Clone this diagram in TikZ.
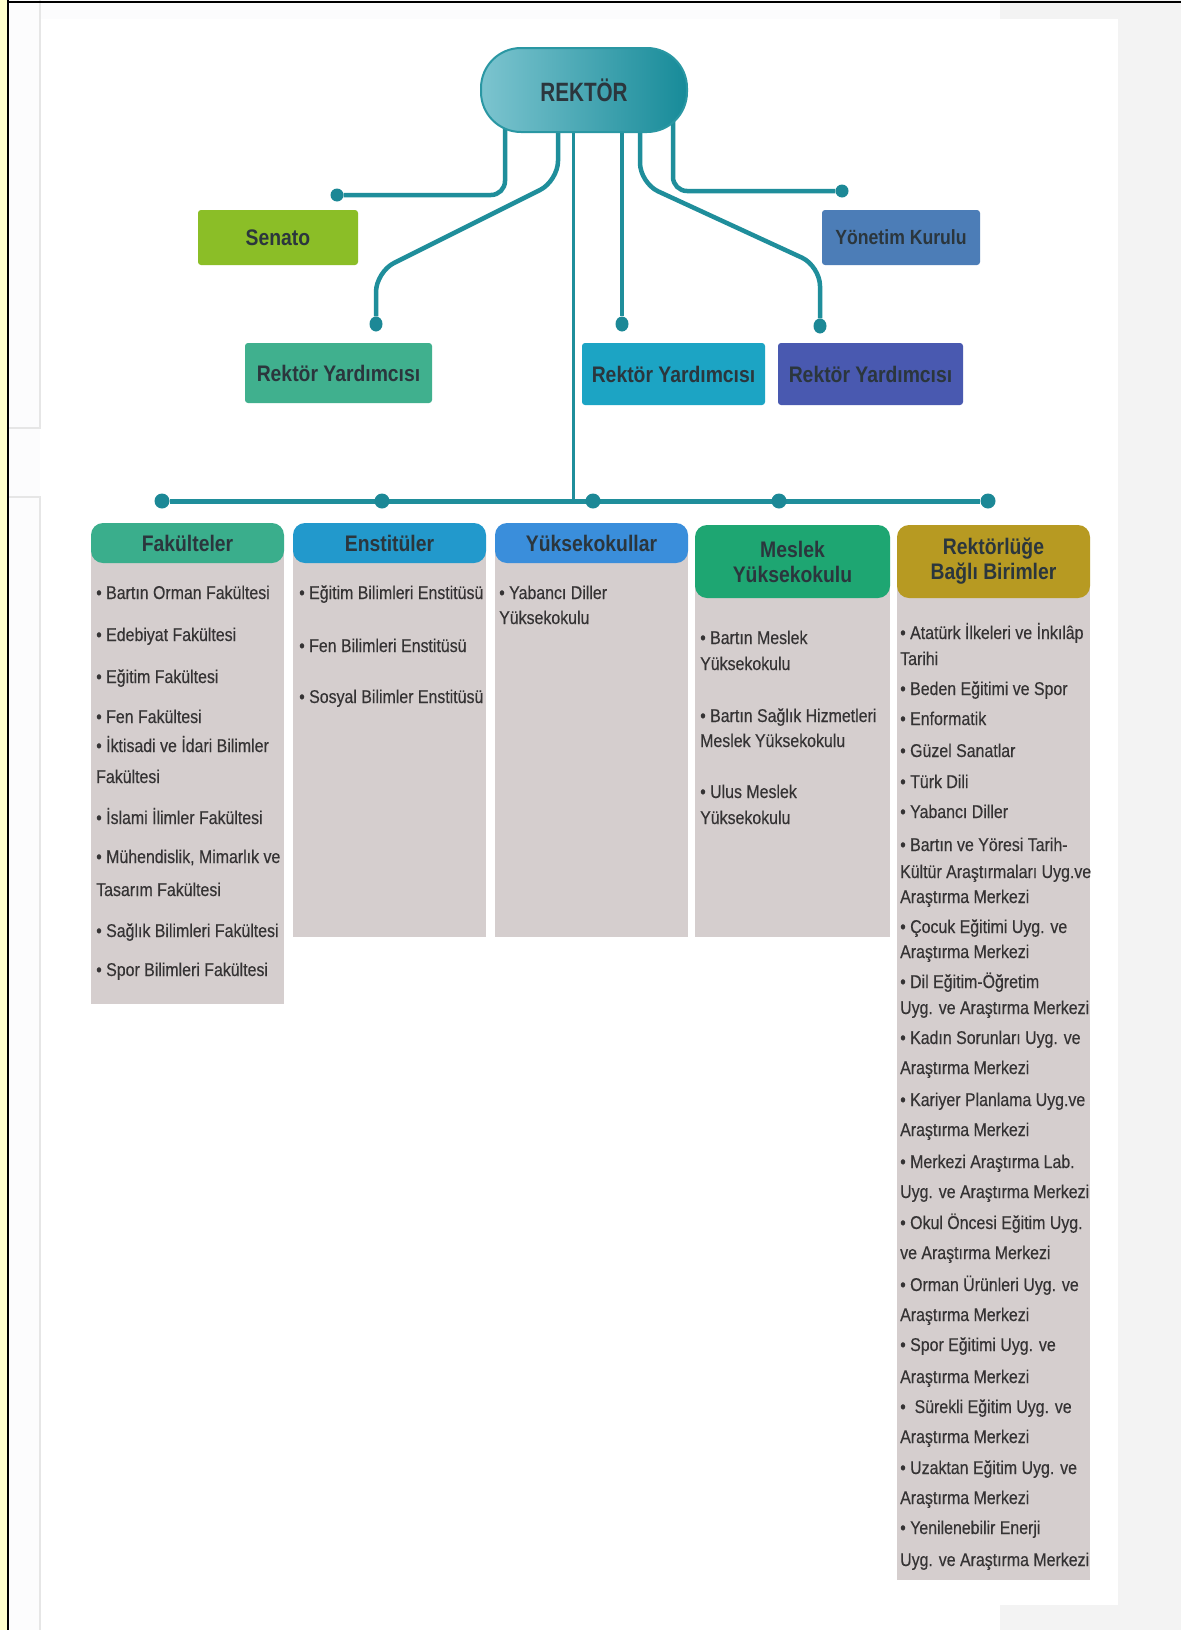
\documentclass[tikz,border=0pt]{standalone}
\usepackage{fontspec}
\setmainfont{Liberation Sans}[FakeStretch=0.86]
\newfontfamily\rkfont{Liberation Sans}[FakeStretch=0.78]
\newfontfamily\itemfont{Liberation Sans}[FakeStretch=0.86, FakeBold=0.35]
\usetikzlibrary{shapes.geometric}
\pgfdeclarelayer{back}
\pgfdeclarelayer{lines}
\pgfsetlayers{back,lines,main}
\definecolor{lineC}{HTML}{1F8E9B}
\definecolor{dotC}{HTML}{1C8896}
\definecolor{rkL}{HTML}{7CC4CF}
\definecolor{rkR}{HTML}{178B99}
\definecolor{rkB}{HTML}{2A97A3}
\definecolor{txtC}{HTML}{2B363D}
\definecolor{itemC}{HTML}{353334}
\definecolor{senC}{HTML}{8BBE27}
\definecolor{yonC}{HTML}{4C7DB7}
\definecolor{ryA}{HTML}{40B08E}
\definecolor{ryB}{HTML}{1CA4C4}
\definecolor{ryC}{HTML}{4959B0}
\definecolor{fakC}{HTML}{3AAE8C}
\definecolor{ensC}{HTML}{2299CC}
\definecolor{yukC}{HTML}{3A8EDB}
\definecolor{mesC}{HTML}{1EA672}
\definecolor{rekC}{HTML}{B79A22}
\definecolor{bodyC}{HTML}{D5CECE}
\definecolor{yelC}{HTML}{FFFFCC}
\definecolor{pageC}{HTML}{FCFCFD}
\definecolor{sideC}{HTML}{F3F3F3}
\definecolor{faintC}{HTML}{E6E6E6}
\begin{document}
\begin{tikzpicture}[x=1pt,y=-1pt,
  conn/.style={draw=lineC, line width=4.5pt, rounded corners=16pt},
  dotnode/.style={circle, fill=dotC, minimum size=13pt, inner sep=0pt},
  vdot/.style={ellipse, fill=dotC, minimum width=13pt, minimum height=15pt, inner sep=0pt},
  topbox/.style={rectangle, rounded corners=3pt, inner sep=0pt, text=txtC,
    font=\bfseries\fontsize{22.5}{24}\selectfont, minimum height=56pt},
  hdr/.style={rectangle, rounded corners=12pt, inner sep=0pt, text=txtC, align=center,
    font=\bfseries\fontsize{22.5}{25}\selectfont},
  bodybox/.style={rectangle, fill=bodyC, inner sep=0pt},
  item/.style={inner sep=0pt, anchor=base west, text=itemC,
    font=\itemfont\fontsize{18.5}{20}\selectfont}]
\useasboundingbox (0,0) rectangle (1181,1630);
\begin{pgfonlayer}{back}
  \fill[pageC] (0,0) rectangle (1181,1630);
  \fill[sideC] (1118,0) rectangle (1181,1630);
  \fill[sideC] (1000,0) rectangle (1181,19);
  \fill[sideC] (1000,1605) rectangle (1181,1630);
  \fill[white] (40,19) rectangle (1118,1605);
  \fill[white] (40,1605) rectangle (1000,1630);
  \draw[faintC, line width=1.5pt] (40,0) -- (40,428) -- (8,428);
  \draw[faintC, line width=1.5pt] (8,497) -- (40,497) -- (40,1630);
  \fill[yelC] (0,0) rectangle (7,1630);
  \draw[black, line width=2pt] (8,1.5) -- (1181,1.5);
  \draw[black, line width=2pt] (8,0) -- (8,1630);
\end{pgfonlayer}

% REKTOR
\node[rectangle, rounded corners=40pt, draw=rkB, line width=2pt, left color=rkL, right color=rkR,
  minimum width=206pt, minimum height=84pt, inner sep=0pt, text=txtC,
  font=\rkfont\bfseries\fontsize{26.5}{28}\selectfont] (rektor) at (584,90) {REKTÖR};

% top boxes
\node[topbox, fill=senC, minimum width=160pt, minimum height=55pt] (senato) at (278,237.5) {Senato};
\node[topbox, fill=yonC, minimum width=158pt, minimum height=55pt,
  font=\bfseries\fontsize{20.5}{22}\selectfont] (yonetim) at (901,237.5) {Yönetim Kurulu};
\node[topbox, fill=ryA, minimum width=187pt, minimum height=60pt] (ry1) at (338.5,373) {Rektör Yardımcısı};
\node[topbox, fill=ryB, minimum width=183pt, minimum height=62pt] (ry2) at (673.5,374) {Rektör Yardımcısı};
\node[topbox, fill=ryC, minimum width=185pt, minimum height=62pt] (ry3) at (870.5,374) {Rektör Yardımcısı};

% dots
\node[dotnode] (dsen) at (337,195) {};
\node[dotnode] (dyon) at (842,191) {};
\node[vdot] (dry1) at (376,324) {};
\node[vdot] (dry2) at (622,324) {};
\node[vdot] (dry3) at (820,326) {};
\node[dotnode, minimum size=15pt] (dfak) at (162,501) {};
\node[dotnode, minimum size=15pt] (dens) at (382,501) {};
\node[dotnode, minimum size=15pt] (dyuk) at (593,501) {};
\node[dotnode, minimum size=15pt] (dmes) at (779,501) {};
\node[dotnode, minimum size=15pt] (drek) at (988,501) {};
\coordinate (busj) at (573,501);

% connectors
\begin{pgfonlayer}{lines}
  \draw[conn, rounded corners=14pt] ([xshift=-79pt]rektor.center) |- (dsen);
  \draw[conn, rounded corners=20pt] ([xshift=-26pt]rektor.center) -- ++(0,91) -- (376,272) -- (dry1);
  \draw[draw=lineC, line width=3pt] ([xshift=-11pt]rektor.center) -- (busj);
  \draw[conn] ([xshift=38pt]rektor.center) -- (dry2);
  \draw[conn, rounded corners=20pt] ([xshift=56pt]rektor.center) -- ++(0,93) -- (820,266) -- (dry3);
  \draw[conn, rounded corners=14pt] ([xshift=89pt]rektor.center) |- (dyon);
  \draw[draw=lineC, line width=5pt] (dfak) -- (drek);
\end{pgfonlayer}

% columns: bodies
\node[bodybox, minimum width=193pt, minimum height=461pt, anchor=north] (bfak) at (187.5,543) {};
\node[bodybox, minimum width=193pt, minimum height=394pt, anchor=north] (bens) at (389.5,543) {};
\node[bodybox, minimum width=193pt, minimum height=394pt, anchor=north] (byuk) at (591.5,543) {};
\node[bodybox, minimum width=195pt, minimum height=375.5pt, anchor=north] (bmes) at (792.5,561.5) {};
\node[bodybox, minimum width=193pt, minimum height=1018.5pt, anchor=north] (brek) at (993.5,561.5) {};

% headers
\node[hdr, fill=fakC, minimum width=193pt, minimum height=40pt] (hfak) at (187.5,543) {Fakülteler};
\node[hdr, fill=ensC, minimum width=193pt, minimum height=40pt] (hens) at (389.5,543) {Enstitüler};
\node[hdr, fill=yukC, minimum width=193pt, minimum height=40pt] (hyuk) at (591.5,543) {Yüksekokullar};
\node[hdr, fill=mesC, minimum width=195pt, minimum height=73pt] (hmes) at (792.5,561.5) {Meslek\\Yüksekokulu};
\node[hdr, fill=rekC, minimum width=193pt, minimum height=73pt] (hrek) at (993.5,561.5) {Rektörlüğe\\Bağlı Birimler};

% lists
\foreach \yy/\txt [count=\i] in {
  593/{• Bartın Orman Fakültesi},
  635/{• Edebiyat Fakültesi},
  677/{• Eğitim Fakültesi},
  717/{• Fen Fakültesi},
  746/{• İktisadi ve İdari Bilimler},
  777/{Fakültesi},
  818/{• İslami İlimler Fakültesi},
  857/{• Mühendislik, Mimarlık ve},
  890/{Tasarım Fakültesi},
  931/{• Sağlık Bilimleri Fakültesi},
  970/{• Spor Bilimleri Fakültesi}}
  \node[item] (fak\i) at (96,\yy+6) {\txt};

\foreach \yy/\txt [count=\i] in {
  593/{• Eğitim Bilimleri Enstitüsü},
  646/{• Fen Bilimleri Enstitüsü},
  697/{• Sosyal Bilimler Enstitüsü}}
  \node[item] (ens\i) at (299,\yy+6) {\txt};

\foreach \yy/\txt [count=\i] in {
  593/{• Yabancı Diller},
  618/{Yüksekokulu}}
  \node[item] (yuk\i) at (499,\yy+6) {\txt};

\foreach \yy/\txt [count=\i] in {
  638/{• Bartın Meslek},
  664/{Yüksekokulu},
  716/{• Bartın Sağlık Hizmetleri},
  741/{Meslek Yüksekokulu},
  792/{• Ulus Meslek},
  818/{Yüksekokulu}}
  \node[item] (mes\i) at (700,\yy+6) {\txt};

\foreach \yy/\txt [count=\i] in {
  633/{• Atatürk İlkeleri ve İnkılâp},
  659/{Tarihi},
  689/{• Beden Eğitimi ve Spor},
  719/{• Enformatik},
  751/{• Güzel Sanatlar},
  782/{• Türk Dili},
  812/{• Yabancı Diller},
  845/{• Bartın ve Yöresi Tarih-},
  872/{Kültür Araştırmaları Uyg.ve},
  897/{Araştırma Merkezi},
  927/{• Çocuk Eğitimi Uyg. ve},
  952/{Araştırma Merkezi},
  982/{• Dil Eğitim-Öğretim},
  1008/{Uyg. ve Araştırma Merkezi},
  1038/{• Kadın Sorunları Uyg. ve},
  1068/{Araştırma Merkezi},
  1100/{• Kariyer Planlama Uyg.ve},
  1130/{Araştırma Merkezi},
  1162/{• Merkezi Araştırma Lab.},
  1192/{Uyg. ve Araştırma Merkezi},
  1223/{• Okul Öncesi Eğitim Uyg.},
  1253/{ve Araştırma Merkezi},
  1285/{• Orman Ürünleri Uyg. ve},
  1315/{Araştırma Merkezi},
  1345/{• Spor Eğitimi Uyg. ve},
  1377/{Araştırma Merkezi},
  1407/{•~ Sürekli Eğitim Uyg. ve},
  1437/{Araştırma Merkezi},
  1468/{• Uzaktan Eğitim Uyg. ve},
  1498/{Araştırma Merkezi},
  1528/{• Yenilenebilir Enerji},
  1560/{Uyg. ve Araştırma Merkezi}}
  \node[item] (rek\i) at (900,\yy+6) {\txt};
\end{tikzpicture}
\end{document}
